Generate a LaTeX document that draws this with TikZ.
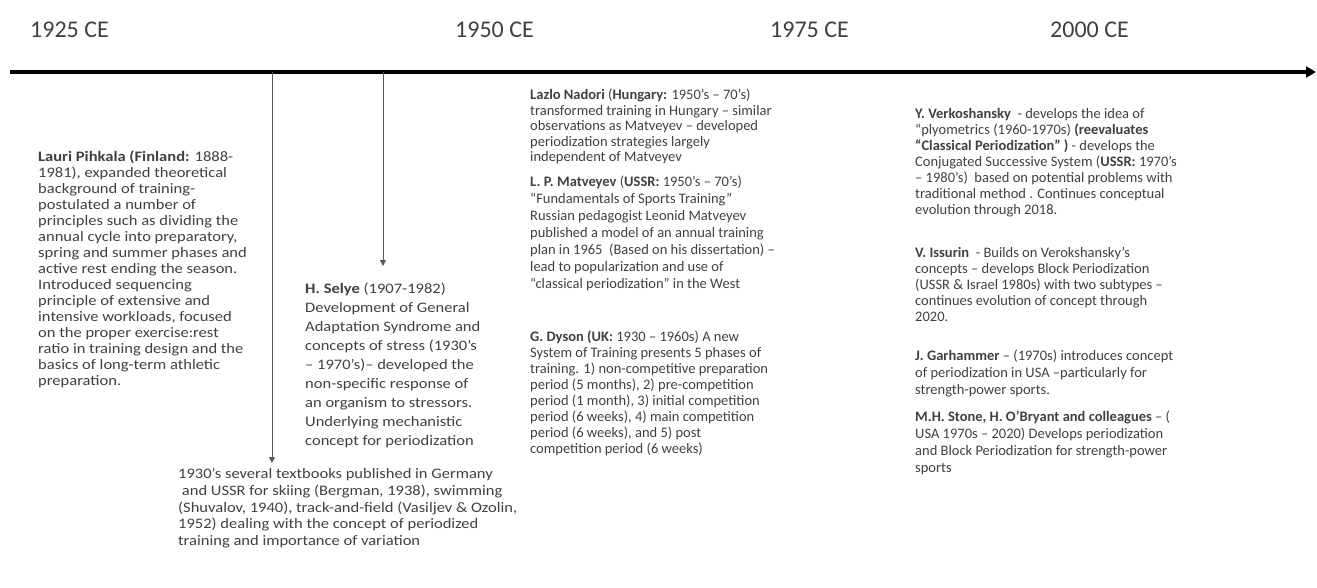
\documentclass[tikz,border=0pt]{standalone}
\usepackage{fontspec}
\setmainfont{Carlito}
\newfontfamily\widefont{Carlito}[FakeStretch=1.14]
\usepackage{tikz}
\usetikzlibrary{arrows.meta, positioning, calc}
\definecolor{txtgray}{HTML}{404040}
\definecolor{linegray}{HTML}{595959}

\begin{document}
\begin{tikzpicture}[x=1pt, y=-1pt]
        \tikzset{
            yearlabel/.style={anchor=west, inner sep=0pt, font=\fontsize{24}{28}\selectfont, text=txtgray},
            textblock/.style={anchor=north west, align=left, inner sep=0pt, text=txtgray, font=\fontsize{14.5}{17}\selectfont},
            widebox/.style={textblock, font=\widefont\fontsize{14.5}{16}\selectfont},
            drop/.style={linegray, line width=0.9pt, -{Triangle[length=6pt, width=6pt]}}
        }
        \useasboundingbox (0,0) rectangle (1317,588);

        % Year Labels
        \node[yearlabel] (y1925) at (30,30) {1925 CE};
        \node[yearlabel] (y1950) at (455,30) {1950 CE};
        \node[yearlabel] (y1975) at (770,30) {1975 CE};
        \node[yearlabel] (y2000) at (1050,30) {2000 CE};

        % Time Axis
        \coordinate (axL) at (10,72);
        \coordinate (axR) at (1316,72);
        \draw[line width=3.5pt, -{Triangle[length=10pt, width=11pt]}] (axL) -- (axR);

        % Drop Lines
        \coordinate (dA) at (272,72);
        \coordinate (dAend) at (272,463);
        \coordinate (dB) at (383,72);
        \coordinate (dBend) at (383,266);
        \draw[drop] (dA) -- (dAend);
        \draw[drop] (dB) -- (dBend);

        % Left Column
        \node[widebox] (pihkala) at (38,151) {\textbf{Lauri Pihkala (Finland:} 1888-\\
            1981), expanded theoretical\\
            background of training-\\
            postulated a number of\\
            principles such as dividing the\\
            annual cycle into preparatory,\\
            spring and summer phases and\\
            active rest ending the season.\\
            Introduced sequencing\\
            principle of extensive and\\
            intensive workloads, focused\\
            on the proper exercise:rest\\
            ratio in training design and the\\
            basics of long-term athletic\\
            preparation.};
        \node[widebox, font=\widefont\fontsize{14.5}{19}\selectfont] (selye) at (305,283) {\textbf{H. Selye} (1907-1982)\\
            Development of General\\
            Adaptation Syndrome and\\
            concepts of\ stress (1930’s\\
            – 1970’s)– developed the\\
            non-specific response of\\
            an organism to stressors.\\
            Underlying mechanistic\\
            concept for periodization};
        \node[widebox, font=\widefont\fontsize{14.5}{16.8}\selectfont] (books) at (178,468) {1930’s\ several textbooks published in\ Germany\\
            \ and USSR for skiing (Bergman, 1938), swimming\\
            (Shuvalov, 1940), track-and-field (Vasiljev \& Ozolin,\\
            1952)\ dealing with the concept of periodized\\
            training and importance of variation};

        % Middle Column
        \node[textblock, font=\fontsize{14.5}{15.5}\selectfont] (nadori) at (530,89) {\textbf{Lazlo Nadori} (\textbf{Hungary:} 1950’s – 70’s)\\
            transformed training in Hungary – similar\\
            observations as Matveyev – developed\\
            periodization strategies largely\\
            independent of Matveyev};
        \node[textblock] (matveyev) at (530,176) {\textbf{L. P. Matveyev} (\textbf{USSR:} 1950’s – 70’s)\\
            “Fundamentals of Sports Training”\\
            Russian pedagogist Leonid Matveyev\\
            published a model of an annual training\\
            plan in 1965\ \ (Based on his dissertation) –\\
            lead to popularization and use of\\
            “classical periodization” in the West};
        \node[textblock, font=\fontsize{14.5}{16}\selectfont] (dyson) at (530,331) {\textbf{G. Dyson (UK:} 1930 – 1960s)\ A new\\
            System of Training presents 5 phases of\\
            training. 1) non-competitive preparation\\
            period (5 months), 2) pre-competition\\
            period (1 month), 3) initial competition\\
            period (6 weeks), 4) main competition\\
            period (6 weeks), and 5) post\\
            competition period (6 weeks)};

        % Right Column
        \node[textblock, font=\fontsize{14.5}{16}\selectfont] (verko) at (915,108) {\textbf{Y. Verkoshansky}\ \ - develops the idea of\\
            “plyometrics (1960-1970s) \textbf{(reevaluates}\\
            \textbf{“Classical Periodization” )} - develops the\\
            Conjugated Successive System (\textbf{USSR:} 1970’s\\
            – 1980’s)\ \ based on potential problems with\\
            traditional method . Continues conceptual\\
            evolution through 2018.};
        \node[textblock, font=\fontsize{14.5}{16}\selectfont] (issurin) at (915,247) {\textbf{V. Issurin}\ \ - Builds on Verokshansky’s\\
            concepts – develops Block Periodization\\
            (USSR \&\ Israel 1980s)\ with two subtypes –\\
            continues evolution of concept through\\
            2020.};
        \node[textblock] (garhammer) at (915,350) {\textbf{J. Garhammer} – (1970s)\ introduces concept\\
            of periodization in USA –particularly for\\
            strength-power sports.};
        \node[textblock] (stone) at (915,411) {\textbf{M.H. Stone, H. O’Bryant and colleagues} – (\\
            USA 1970s\ – 2020)\ Develops periodization\\
            and Block Periodization for strength-power\\
            sports};
\end{tikzpicture}
\end{document}
